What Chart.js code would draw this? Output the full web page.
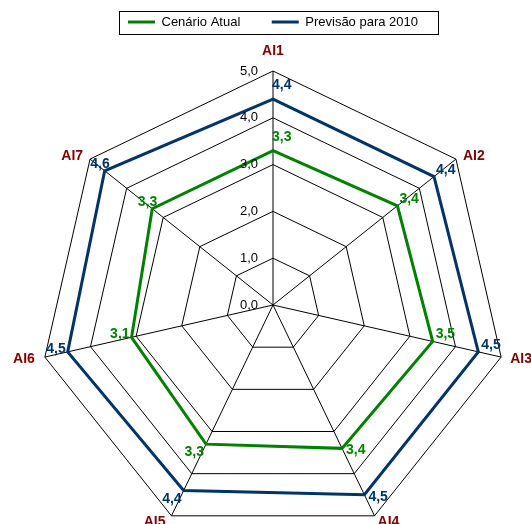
<!DOCTYPE html>
<html>
<head>
<meta charset="utf-8">
<script src="https://cdn.jsdelivr.net/npm/chart.js@4.4.0/dist/chart.umd.min.js"></script>
<style>
  html, body { margin: 0; padding: 0; background: #fff; overflow: hidden; }
  body { width: 531px; height: 524px; }
  canvas { display: block; }
</style>
</head>
<body>
<!-- the plot runs a little past the bottom edge, as in the original picture -->
<canvas id="radarChart" width="531" height="572"></canvas>
<script>
const categories = ['AI1', 'AI2', 'AI3', 'AI4', 'AI5', 'AI6', 'AI7'];
const atualValues = [3.3, 3.4, 3.5, 3.4, 3.3, 3.1, 3.3];
const previsaoValues = [4.4, 4.4, 4.5, 4.5, 4.4, 4.5, 4.6];
const tickLabels = ['0,0', '1,0', '2,0', '3,0', '4,0', '5,0'];

const fontFamily = 'Arial, "Liberation Sans", sans-serif';
const green = '#008000';
const navy = '#003366';
const labelRed = '#800000';

// where each axis name / value label sits relative to its point
const axisLabelPlace = [
  { align: 'center', dx: 0, dy: -16 },
  { align: 'left', dx: 7, dy: 1 },
  { align: 'left', dx: 9, dy: 6 },
  { align: 'left', dx: 3, dy: 10 },
  { align: 'right', dx: -6, dy: 10 },
  { align: 'right', dx: -10, dy: 6 },
  { align: 'right', dx: -7, dy: 1 }
];
const valueLabelPlace = [
  { align: 'left', dx: -1, dy: -10 },
  { align: 'left', dx: 2, dy: -3 },
  { align: 'left', dx: 3, dy: -3 },
  { align: 'left', dx: 4, dy: 6 },
  { align: 'right', dx: -2, dy: 12 },
  { align: 'right', dx: -2, dy: 1 },
  { align: 'right', dx: 5, dy: -3 }
];

const radarExtras = {
  id: 'radarExtras',
  afterDraw(chart) {
    const ctx = chart.ctx;
    const r = chart.scales.r;
    ctx.save();

    // tick labels on the left of the vertical axis
    ctx.font = '13px ' + fontFamily;
    ctx.fillStyle = '#000';
    ctx.textAlign = 'right';
    ctx.textBaseline = 'middle';
    r.ticks.forEach(t => {
      const y = r.yCenter - r.getDistanceFromCenterForValue(t.value);
      ctx.fillText(t.label, r.xCenter - 15, y);
    });

    // axis names
    ctx.font = 'bold 14px ' + fontFamily;
    ctx.fillStyle = labelRed;
    ctx.textBaseline = 'alphabetic';
    categories.forEach((name, i) => {
      const p = r.getPointPosition(i, r.drawingArea);
      const pl = axisLabelPlace[i];
      ctx.textAlign = pl.align;
      ctx.fillText(name, p.x + pl.dx, p.y + pl.dy);
    });

    // value labels
    chart.data.datasets.forEach((ds, di) => {
      const meta = chart.getDatasetMeta(di);
      ctx.fillStyle = ds.borderColor;
      meta.data.forEach((pt, i) => {
        const pl = valueLabelPlace[i];
        ctx.textAlign = pl.align;
        const txt = ds.data[i].toFixed(1).replace('.', ',');
        ctx.fillText(txt, pt.x + pl.dx, pt.y + pl.dy);
      });
    });

    // frame around the legend
    const boxes = chart.legend.legendHitBoxes;
    if (boxes && boxes.length) {
      const first = boxes[0];
      const last = boxes[boxes.length - 1];
      const left = first.left - 9;
      const right = last.left + last.width + 20;
      const top = first.top - 5;
      const bottom = first.top + first.height + 5;
      ctx.strokeStyle = '#000';
      ctx.lineWidth = 1;
      ctx.strokeRect(Math.round(left) + 0.5, Math.round(top) + 0.5,
        Math.round(right - left), Math.round(bottom - top));
    }
    ctx.restore();
  }
};

const ctx = document.getElementById('radarChart').getContext('2d');
new Chart(ctx, {
  type: 'radar',
  data: {
    labels: categories,
    datasets: [
      {
        label: 'Cenário Atual',
        data: atualValues,
        borderColor: green,
        backgroundColor: green,
        borderWidth: 3,
        fill: false,
        pointRadius: 0,
        pointHoverRadius: 0
      },
      {
        label: 'Previsão para 2010',
        data: previsaoValues,
        borderColor: navy,
        backgroundColor: navy,
        borderWidth: 3,
        fill: false,
        pointRadius: 0,
        pointHoverRadius: 0
      }
    ]
  },
  options: {
    responsive: false,
    animation: false,
    layout: {
      padding: { top: -16, left: 39, right: 24, bottom: 0 }
    },
    scales: {
      r: {
        min: 0,
        max: 5,
        ticks: {
          stepSize: 1,
          display: false,
          callback: (value, index) => tickLabels[index]
        },
        pointLabels: { display: false },
        grid: { color: '#000', lineWidth: 1 },
        angleLines: { color: '#000', lineWidth: 1 }
      }
    },
    plugins: {
      legend: {
        position: 'top',
        labels: {
          boxWidth: 27,
          boxHeight: 3,
          padding: 31.5,
          color: '#000',
          font: { family: fontFamily, size: 13 },
          generateLabels: (chart) =>
            Chart.defaults.plugins.legend.labels.generateLabels(chart)
              .map(item => ({ ...item, lineWidth: 0 }))
        }
      },
      tooltip: { enabled: false }
    }
  },
  plugins: [radarExtras]
});
</script>
</body>
</html>
